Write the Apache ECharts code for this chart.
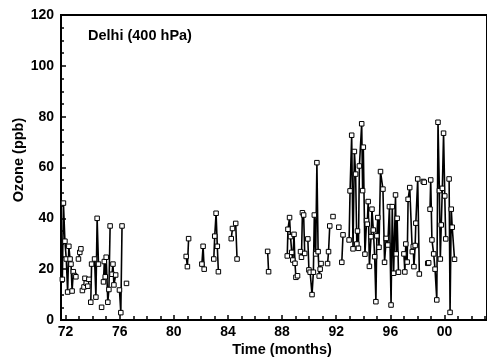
<!DOCTYPE html>
<html>
<head>
<meta charset="utf-8">
<script src="https://cdn.jsdelivr.net/npm/echarts@6/dist/echarts.min.js"></script>
<style>
html,body{margin:0;padding:0;background:#fff;}
#chart{width:487px;height:361px;}
</style>
</head>
<body>
<div id="chart"></div>
<script>
// Decimal years (19xx); null separates runs of consecutive months
const times = [
  71.76,71.84,71.95,72.05,72.15,72.24,72.33,72.4,72.48,72.57,72.66,72.76, null,
  72.95,73.05,73.13, null,
  73.24,73.36,73.43,73.53,73.64,73.72, null,
  73.86,73.92, null,
  74.14,74.24,74.33,74.43, null,
  74.66, null,
  74.8,74.86,74.93,75.0,75.12,75.2,75.29, null,
  75.43,75.5,75.57,75.7, null,
  75.98,76.08,76.17, null,
  76.5, null,
  80.91,81.0,81.09, null,
  82.07,82.16,82.24, null,
  82.95,83.02,83.12,83.21,83.29, null,
  84.24,84.33, null,
  84.57,84.67, null,
  86.93,87.0, null,
  88.38,88.43,88.55,88.62,88.71,88.79,88.88,88.95,89.02,89.14, null,
  89.36,89.43,89.5,89.59,89.67, null,
  89.9,89.98,90.07,90.21,90.31,90.38,90.48,90.57,90.66,90.74,90.81,90.88, null,
  91.36,91.43,91.52, null,
  91.76, null,
  92.19, null,
  92.41,92.5, null,
  92.95,93.02,93.14,93.24,93.34,93.43,93.52,93.57,93.64,93.71,93.88,93.95,94.0,94.12,94.24,94.29,94.36,94.45,94.57,94.64,94.74,94.84,94.93,95.0,95.07,95.16,95.27,95.45,95.57,95.69,95.81,95.93,96.05,96.14,96.24,96.38,96.43,96.5,96.6, null,
  97.0,97.07,97.14,97.24,97.31,97.43,97.62,97.69,97.74,97.83,97.88,98.02,98.14, null,
  98.43,98.5, null,
  98.76,98.83, null,
  98.93,98.98,99.07,99.2,99.3,99.43,99.52,99.62,99.69,99.76,99.84,99.93,100.02,100.09, null,
  100.34,100.41,100.5,100.57,100.74
];
const ozone = [
  16,46,31,24,11,29,24,22,11.4,19,17.5,17, null,
  24,26.6,28, null,
  11.6,13,16.4,14.5,13.3,16, null,
  7,22, null,
  24,9,40,22, null,
  5, null,
  15,23,17,24.7,7,12,37, null,
  18,22,13.8,17.7, null,
  11.8,2.9,37, null,
  14.4, null,
  25,21,32, null,
  22,29,20, null,
  24,33,42,29,19, null,
  32,36, null,
  38,24, null,
  27,19, null,
  25.2,35.7,40.3,32.8,26.6,23.6,33.7,22.3,16.8,17.4, null,
  26.9,24.7,42.2,41.3,26.2, null,
  31.9,19.7,18.8,10,18.8,41.3,26,61.9,26.9,17.3,20,22.2, null,
  22.2,26.9,37, null,
  40.7, null,
  36.5, null,
  22.7,33.5, null,
  31.5,50.8,72.7,28,66.3,57.4,29.9,35,28.2,60.6,77.2,50.9,68,25.9,39.1,37.7,46.6,21.1,32.8,43.6,35.4,24.9,7.2,33.1,40.3,28.6,58.4,51.5,22.7,32.1,29.5,44.6,5.9,44.6,18.4,49.2,26,40,18.8, null,
  26,18.9,29.9,22.8,47.5,52.1,26.9,28.9,21,29.3,38.1,55.5,18.1, null,
  54.5,54.2, null,
  22.3,22.5, null,
  43.6,55.1,31.5,26,20,7.9,77.8,50.9,24,37.4,51.8,73.5,48.8,31.9, null,
  55.5,3.0,43.6,36.5,23.9
];
const majorTicks = [72,76,80,84,88,92,96,100];
const minorTicks = [72,73,74,75,76,77,78,79,80,81,82,83,84,85,86,87,88,89,90,91,92,93,94,95,96,97,98,99,100,101,102,103];
const yTicks = [0,20,40,60,80,100,120];

const seriesData = [];
let lastT = times[0];
for (let i = 0; i < times.length; i++) {
  if (times[i] === null) { seriesData.push([lastT, null]); }
  else { seriesData.push([times[i], ozone[i]]); lastT = times[i]; }
}

const FONT = '"Liberation Sans", Arial, Helvetica, sans-serif';
const chart = echarts.init(document.getElementById('chart'), null, {renderer: 'canvas'});
const xMin = 71.66, xMax = 103.14;
chart.setOption({
  animation: false,
  backgroundColor: '#fff',
  grid: {left: 61, right: -15, top: 15, bottom: 41, show: true, borderColor: '#000', borderWidth: 2, backgroundColor: 'transparent'},
  xAxis: [{
    type: 'value', min: xMin, max: xMax,
    axisLine: {show: true, onZero: false, lineStyle: {color: '#000', width: 2}},
    axisTick: {show: true, inside: true, length: 5, customValues: majorTicks, lineStyle: {color: '#000', width: 1.5}},
    axisLabel: {customValues: majorTicks, margin: 5, color: '#000', fontFamily: FONT, fontWeight: 'bold', fontSize: 14,
      formatter: v => String(Math.round(v) % 100).padStart(2, '0')},
    splitLine: {show: false}
  }, {
    type: 'value', min: xMin, max: xMax, position: 'bottom', gridIndex: 0,
    axisLine: {show: false},
    axisTick: {show: true, inside: true, length: 4, customValues: minorTicks, lineStyle: {color: '#000', width: 1.5}},
    axisLabel: {show: false},
    splitLine: {show: false}
  }],
  yAxis: {
    type: 'value', min: 0, max: 120, interval: 20,
    axisLine: {show: true, lineStyle: {color: '#000', width: 2}},
    axisTick: {show: true, inside: true, length: 5, lineStyle: {color: '#000', width: 1.5}},
    minorTick: {show: true, splitNumber: 4, length: 3, lineStyle: {color: '#000', width: 1.5}},
    axisLabel: {margin: 7, color: '#000', fontFamily: FONT, fontWeight: 'bold', fontSize: 14},
    splitLine: {show: false}
  },
  graphic: [
    {type: 'text', left: 88, top: 28, style: {text: 'Delhi (400 hPa)', fill: '#000', font: 'bold 14.5px ' + FONT}},
    {type: 'text', x: 19, y: 160, rotation: Math.PI / 2, style: {text: 'Ozone (ppb)', fill: '#000', align: 'center', verticalAlign: 'middle', font: 'bold 14.5px ' + FONT}},
    {type: 'text', x: 282, y: 350, style: {text: 'Time (months)', fill: '#000', align: 'center', verticalAlign: 'middle', font: 'bold 14.5px ' + FONT}}
  ],
  series: [{
    type: 'line', data: seriesData, connectNulls: false,
    showAllSymbol: true, symbol: 'rect', symbolSize: 4.5,
    lineStyle: {color: '#000', width: 1.6},
    itemStyle: {color: '#fff', borderColor: '#000', borderWidth: 1},
    z: 3
  }]
});
</script>
</body>
</html>
